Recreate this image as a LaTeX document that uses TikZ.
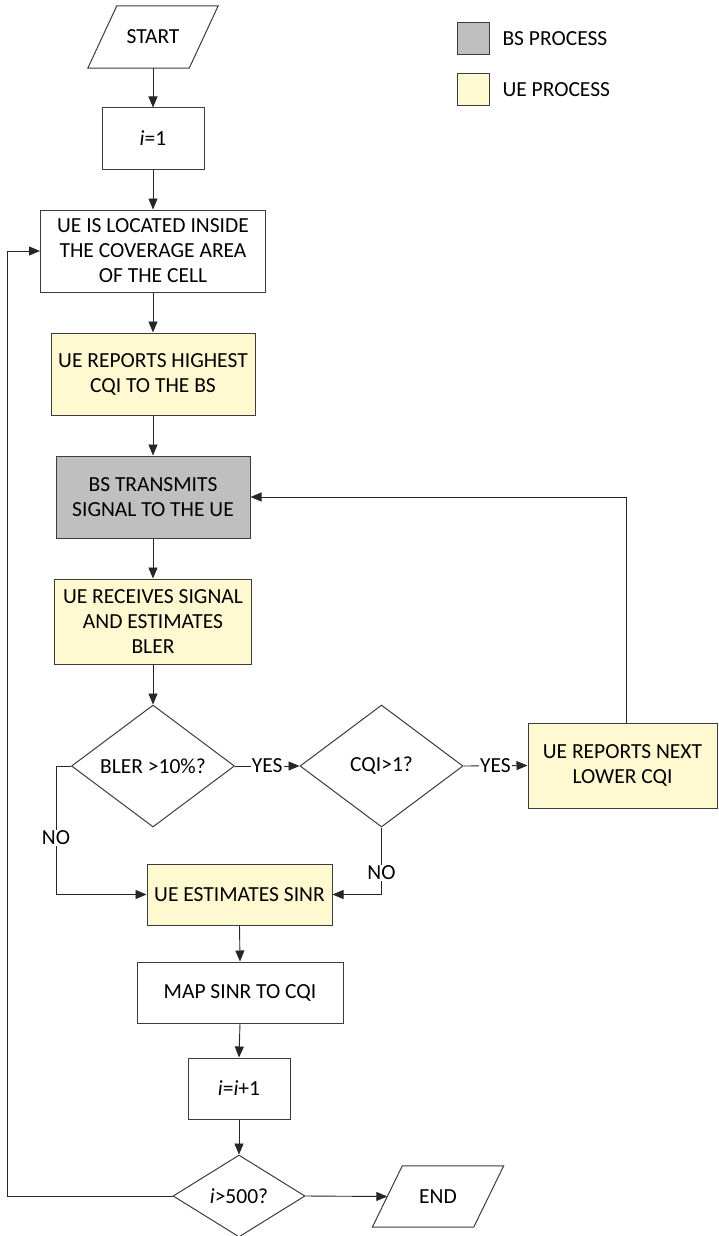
\documentclass[tikz,border=0pt]{standalone}
\usepackage{fontspec}
\setmainfont{Carlito}
\usetikzlibrary{shapes.geometric,arrows.meta}
\definecolor{uefill}{RGB}{255,249,210}
\definecolor{bsfill}{RGB}{191,191,191}
\definecolor{lineclr}{RGB}{60,60,60}

\begin{document}
\begin{tikzpicture}[x=1pt,y=-1pt,
        font=\fontsize{21.5}{25}\selectfont,
        box/.style={draw=lineclr,line width=1pt,rectangle,inner sep=0pt,align=center},
        decide/.style={draw=lineclr,line width=1pt,diamond,inner sep=0pt,align=center},
        io/.style={rectangle,inner sep=0pt,minimum width=101pt},
        ioline/.style={draw=lineclr,line width=1pt},
        arr/.style={-{Triangle[length=11pt,width=9pt]},line width=0.9pt,draw=black!85},
        lbl/.style={fill=white,inner sep=1pt}]
    \path[fill=white,use as bounding box] (0,0) rectangle (718,1236);
    % legend
    \node[box,fill=bsfill,minimum width=32pt,minimum height=32pt] (legbs) at (473,39) {};
    \node[box,fill=uefill,minimum width=32pt,minimum height=32pt] (legue) at (473,90) {};
    \node[anchor=west] (legbstxt) at (499,39) {BS PROCESS};
    \node[anchor=west] (leguetxt) at (499,90) {UE PROCESS};
    % main column
    \node[io,minimum height=62pt] (start) at (153,37) {START};
    \draw[ioline] ([xshift=14.5pt]start.north west) -- ([xshift=14.5pt]start.north east)
        -- ([xshift=-14.5pt]start.south east) -- ([xshift=-14.5pt]start.south west) -- cycle;
    \node[box,minimum width=102pt,minimum height=61pt] (i1) at (153,138.5) {\textit{i}=1};
    \node[box,minimum width=225pt,minimum height=82pt] (ueloc) at (153,251)
        {UE IS LOCATED INSIDE\\THE COVERAGE AREA\\OF THE CELL};
    \node[box,fill=uefill,minimum width=204pt,minimum height=82pt] (uerep) at (153,374)
        {UE REPORTS HIGHEST\\CQI TO THE BS};
    \node[box,fill=bsfill,minimum width=194pt,minimum height=82pt] (bstx) at (153,497)
        {BS TRANSMITS\\SIGNAL TO THE UE};
    \node[box,fill=uefill,minimum width=197pt,minimum height=85pt] (uerx) at (153,621.5)
        {UE RECEIVES SIGNAL\\AND ESTIMATES\\BLER};
    \node[decide,minimum width=163pt,minimum height=122pt] (bler) at (153,766) {BLER >10\%?};
    \node[decide,minimum width=163pt,minimum height=122pt] (cqi) at (381.5,766) {CQI>1?};
    \node[box,fill=uefill,minimum width=189pt,minimum height=85pt] (nextcqi) at (622.5,765.5)
        {UE REPORTS NEXT\\LOWER CQI};
    \node[box,fill=uefill,minimum width=185pt,minimum height=61pt] (uees) at (239.5,894.5)
        {UE ESTIMATES SINR};
    \node[box,minimum width=206pt,minimum height=61pt] (map) at (240,992.5) {MAP SINR TO CQI};
    \node[box,minimum width=102pt,minimum height=61pt] (inc) at (239,1088.5) {\textit{i}=\textit{i}+1};
    \node[decide,minimum width=132pt,minimum height=82pt] (endq) at (239,1196) {\textit{i}>500?};
    \node[io,minimum height=61pt] (stop) at (438,1196.5) {END};
    \draw[ioline] ([xshift=15pt]stop.north west) -- ([xshift=15pt]stop.north east)
        -- ([xshift=-15pt]stop.south east) -- ([xshift=-15pt]stop.south west) -- cycle;
    \coordinate (lp) at (7,1196);
    % connectors
    \draw[arr] (start.south) -- (i1.north);
    \draw[arr] (i1.south) -- (ueloc.north);
    \draw[arr] (ueloc.south) -- (uerep.north);
    \draw[arr] (uerep.south) -- (bstx.north);
    \draw[arr] (bstx.south) -- (uerx.north);
    \draw[arr] (uerx.south) -- (bler.north);
    \draw[arr] (bler.east) -- node[lbl]{YES} (cqi.west);
    \draw[arr] (cqi.east) -- node[lbl]{YES} (nextcqi.west);
    \draw[arr] ([xshift=4pt]nextcqi.north) |- (bstx.east);
    \draw[arr] (bler.west) -- ++(-15pt,0) |- node[lbl,pos=0.28]{NO} (uees.west);
    \draw[arr] (cqi.south) |- node[lbl,pos=0.34]{NO} (uees.east);
    \draw[arr] (uees.south) -- (map.north);
    \draw[arr] (map.south) -- (inc.north);
    \draw[arr] (inc.south) -- (endq.north);
    \draw[arr] (endq.east) -- (stop.west);
    \draw[arr] (endq.west) -- (lp) |- (ueloc.west);
\end{tikzpicture}
\end{document}
